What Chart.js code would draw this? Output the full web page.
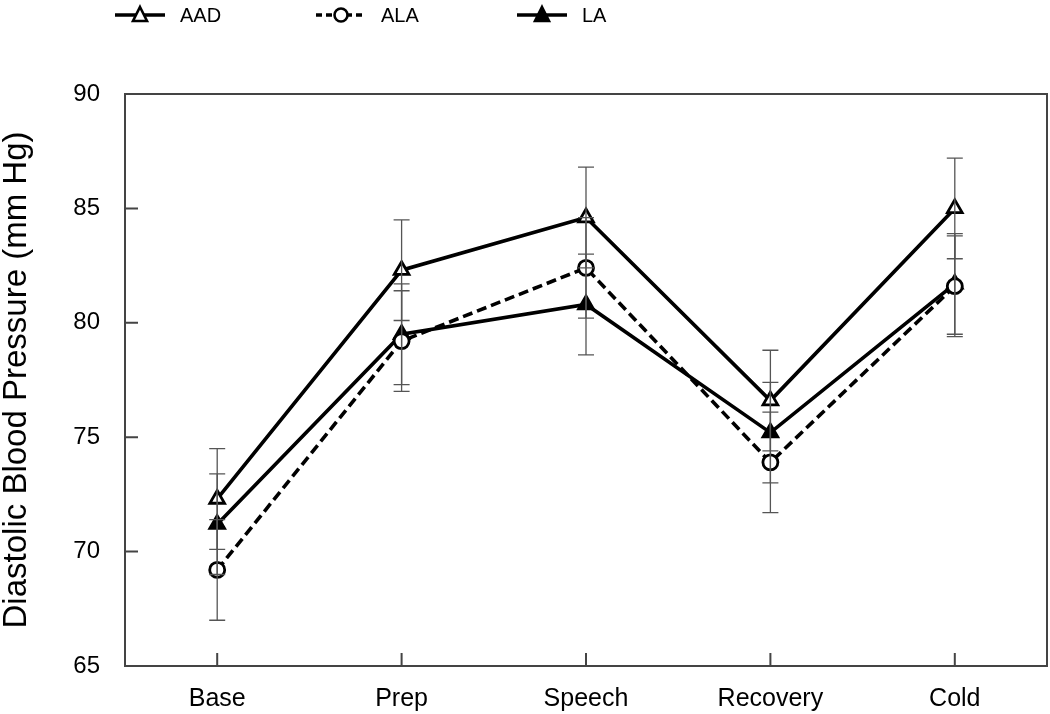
<!DOCTYPE html>
<html>
<head>
<meta charset="utf-8">
<script src="https://cdn.jsdelivr.net/npm/chart.js@4.4.1/dist/chart.umd.min.js"></script>
<style>
  html, body { margin: 0; padding: 0; background: #fff; }
  #wrap { width: 1050px; height: 714px; }
</style>
</head>
<body>
<div id="wrap"><canvas id="c" width="1050" height="714"></canvas></div>
<script>
// ---- data ----
const categories = ['Base', 'Prep', 'Speech', 'Recovery', 'Cold'];
const seriesNames = ['AAD', 'ALA', 'LA'];
const aadValues = [72.3, 82.3, 84.6, 76.6, 85.0];
const alaValues = [69.2, 79.2, 82.4, 73.9, 81.6];
const laValues  = [71.2, 79.5, 80.8, 75.2, 81.7];
const aadErrors = [2.2, 2.2, 2.2, 2.2, 2.2];
const alaErrors = [2.2, 2.2, 2.2, 2.2, 2.2];
const laErrors  = [2.2, 2.2, 2.2, 2.2, 2.2];
const yTickValues = [65, 70, 75, 80, 85, 90];
const yTitle = 'Diastolic Blood Pressure (mm Hg)';

const FONT = '"Liberation Sans", Arial, Helvetica, sans-serif';

const seriesStyles = [
  { pointStyle: 'triangle', fill: '#ffffff', dash: [] },
  { pointStyle: 'circle',   fill: '#ffffff', dash: [10, 5] },
  { pointStyle: 'triangle', fill: '#000000', dash: [] }
];
const allValues = [aadValues, alaValues, laValues];
const allErrors = [aadErrors, alaErrors, laErrors];

const datasets = seriesNames.map((name, i) => ({
  label: name,
  data: allValues[i],
  errors: allErrors[i],
  borderColor: '#000',
  borderWidth: 3.6,
  borderDash: seriesStyles[i].dash,
  pointStyle: seriesStyles[i].pointStyle,
  pointRadius: seriesStyles[i].pointStyle === 'circle' ? 7.5 : 8.5,
  pointHoverRadius: 8,
  pointBorderWidth: 2.8,
  pointBorderColor: '#000',
  pointBackgroundColor: seriesStyles[i].fill,
  tension: 0,
  fill: false
}));

const decorPlugin = {
  id: 'decor',
  afterDatasetsDraw(chart) {
    const ctx = chart.ctx;
    const xs = chart.scales.x, ys = chart.scales.y;
    ctx.save();
    ctx.strokeStyle = '#555';
    ctx.lineWidth = 1.3;
    chart.data.datasets.forEach(ds => {
      ds.data.forEach((v, j) => {
        const e = ds.errors[j];
        const x = xs.getPixelForValue(j);
        const yt = ys.getPixelForValue(v + e);
        const yb = ys.getPixelForValue(v - e);
        ctx.beginPath();
        ctx.moveTo(x, yt); ctx.lineTo(x, yb);
        ctx.moveTo(x - 8, yt); ctx.lineTo(x + 8, yt);
        ctx.moveTo(x - 8, yb); ctx.lineTo(x + 8, yb);
        ctx.stroke();
      });
    });
    ctx.restore();
  },
  afterDraw(chart) {
    const ctx = chart.ctx;
    const a = chart.chartArea;
    const xs = chart.scales.x, ys = chart.scales.y;
    ctx.save();
    // frame
    ctx.strokeStyle = '#444';
    ctx.lineWidth = 2;
    ctx.strokeRect(a.left, a.top, a.right - a.left, a.bottom - a.top);
    // inward ticks
    ctx.beginPath();
    ys.ticks.forEach((t, i) => {
      const y = ys.getPixelForTick(i);
      ctx.moveTo(a.left, y); ctx.lineTo(a.left + 13, y);
    });
    xs.ticks.forEach((t, i) => {
      const x = xs.getPixelForTick(i);
      ctx.moveTo(x, a.bottom); ctx.lineTo(x, a.bottom - 13);
    });
    ctx.stroke();

    // legend
    const legendY = 15;
    const startX = 115, step = 201;
    chart.data.datasets.forEach((ds, i) => {
      const x0 = startX + i * step;
      const st = seriesStyles[i];
      ctx.strokeStyle = '#000';
      ctx.lineWidth = 3.6;
      ctx.setLineDash(i === 1 ? [6, 4] : []);
      ctx.beginPath();
      ctx.moveTo(x0, legendY); ctx.lineTo(x0 + 50, legendY);
      ctx.stroke();
      ctx.setLineDash([]);
      // marker
      const cx = x0 + 25;
      ctx.fillStyle = st.fill;
      ctx.lineWidth = 2.6;
      ctx.beginPath();
      if (st.pointStyle === 'circle') {
        ctx.arc(cx, legendY, 6.5, 0, Math.PI * 2);
      } else {
        ctx.moveTo(cx, legendY - 8);
        ctx.lineTo(cx + 7, legendY + 6);
        ctx.lineTo(cx - 7, legendY + 6);
        ctx.closePath();
      }
      ctx.fill();
      ctx.stroke();
      // text
      ctx.fillStyle = '#000';
      ctx.font = '20px ' + FONT;
      ctx.textBaseline = 'middle';
      ctx.textAlign = 'left';
      ctx.fillText(ds.label, x0 + 65, legendY + 1);
    });
    ctx.restore();
  }
};

new Chart(document.getElementById('c'), {
  type: 'line',
  data: { labels: categories, datasets: datasets },
  plugins: [decorPlugin],
  options: {
    responsive: false,
    animation: false,
    events: [],
    layout: { autoPadding: false, padding: { top: 94, right: 3, left: 0, bottom: 0 } },
    plugins: {
      legend: { display: false },
      tooltip: { enabled: false },
      title: { display: false }
    },
    scales: {
      x: {
        type: 'category',
        offset: true,
        grid: { display: false, drawTicks: false },
        border: { display: false },
        ticks: { color: '#000', font: { family: FONT, size: 25 }, padding: 18, maxRotation: 0 },
        afterFit(scale) { scale.height = 48; scale.paddingRight = 0; scale.paddingLeft = 0; }
      },
      y: {
        min: 65, max: 90,
        afterBuildTicks(scale) { scale.ticks = yTickValues.map(v => ({ value: v })); },
        grid: { display: false, drawTicks: false },
        border: { display: false },
        ticks: { color: '#000', font: { family: FONT, size: 24 }, padding: 25 },
        title: {
          display: true, text: yTitle, color: '#000',
          font: { family: FONT, size: 33 }, padding: { top: -3, bottom: 0 }
        },
        afterFit(scale) { scale.width = 125; scale.paddingTop = 0; scale.paddingBottom = 0; }
      }
    }
  }
});
</script>
</body>
</html>
